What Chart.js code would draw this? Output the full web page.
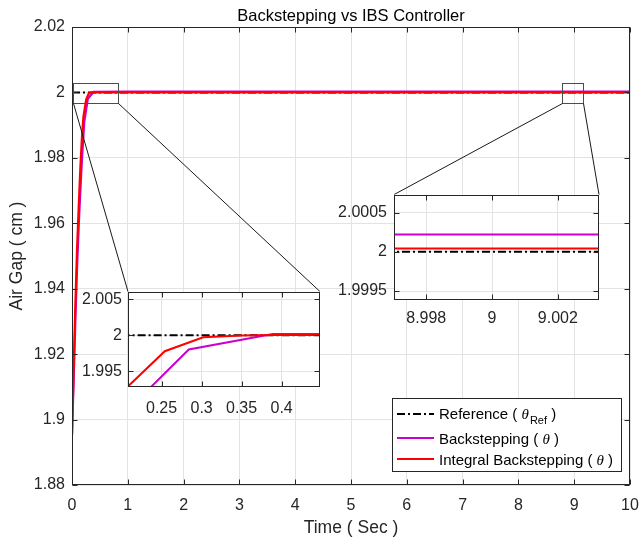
<!DOCTYPE html>
<html>
<head>
<meta charset="utf-8">
<script src="https://cdn.jsdelivr.net/npm/chart.js@4.4.1/dist/chart.umd.min.js"></script>
<style>
  html, body { margin: 0; padding: 0; background: #fff; }
  #wrap { position: relative; width: 641px; height: 539px; }
  #wrap canvas { position: absolute; }
  #main { left: 0; top: 0; }
  #zoom1 { left: 56px; top: 276px; }
  #zoom2 { left: 322px; top: 178px; }
</style>
</head>
<body>
<div id="wrap">
  <canvas id="main" width="641" height="539"></canvas>
  <canvas id="zoom1" width="274" height="146"></canvas>
  <canvas id="zoom2" width="288" height="157"></canvas>
</div>
<script>
// series values
const tRef = [0, 10];
const yRef = [2, 2];
const tBS = [0, 0.03, 0.06, 0.09, 0.12, 0.15, 0.18, 0.22, 0.284, 0.389, 1, 2, 3, 4, 5, 6, 7, 8, 9, 10];
const yBS = [1.8953, 1.912, 1.930, 1.946, 1.959, 1.970, 1.980, 1.9910, 1.99804, 2.00017,
             2.00022, 2.00022, 2.00022, 2.00022, 2.00022, 2.00022, 2.00022, 2.00022, 2.00022, 2.00022];
const tIBS = [0, 0.03, 0.06, 0.09, 0.12, 0.15, 0.18, 0.205, 0.254, 0.302, 0.35, 0.39, 1, 2, 3, 4, 5, 6, 7, 8, 9, 10];
const yIBS = [1.8953, 1.916, 1.935, 1.952, 1.965, 1.977, 1.987, 1.9926, 1.9978, 1.99974, 1.99998, 2.00003,
              2.000044, 2.000044, 2.000044, 2.000044, 2.000044, 2.000044, 2.000044, 2.000044, 2.000044, 2.000044];

const seriesLabels = ['Reference', 'Backstepping', 'Integral Backstepping'];
const seriesSubs = ['Ref', '', ''];
const chartTitle = 'Backstepping vs IBS Controller';

// axes
const mainXTicks = [0, 1, 2, 3, 4, 5, 6, 7, 8, 9, 10];
const mainYTicks = [1.88, 1.9, 1.92, 1.94, 1.96, 1.98, 2, 2.02];
const zoom1XTicks = [0.25, 0.3, 0.35, 0.4];
const zoom1YTicks = [1.995, 2, 2.005];
const zoom2XTicks = [8.998, 9, 9.002];
const zoom2YTicks = [1.9995, 2, 2.0005];

// zoomed windows (rectangles on the main axes)
const box1X = [0.02, 0.83];
const box2X = [8.787, 9.158];
const boxY = [1.9968, 2.0029];

Chart.defaults.font.family = '"Liberation Sans", Arial, Helvetica, sans-serif';
Chart.defaults.color = '#262626';

function series(ts, ys) {
  return ts.map((t, i) => ({ x: t, y: ys[i] }));
}

// order: later series drawn on top, like MATLAB's hold on
function makeDatasets(lw) {
  return [
    { label: seriesLabels[0], data: series(tRef, yRef), borderColor: '#000000', borderWidth: 2,
      borderDash: [8, 3, 2, 3], pointRadius: 0, tension: 0, order: 3 },
    { label: seriesLabels[1], data: series(tBS, yBS), borderColor: '#cc00cc', borderWidth: lw,
      pointRadius: 0, tension: 0, order: 2 },
    { label: seriesLabels[2], data: series(tIBS, yIBS), borderColor: '#ff0000', borderWidth: lw,
      pointRadius: 0, tension: 0, order: 1 }
  ];
}

function axis(min, max, ticks, size, pad, title) {
  return {
    type: 'linear', min: min, max: max,
    afterBuildTicks: s => { s.ticks = ticks.map(v => ({ value: v })); },
    afterFit: s => {
      if (s.isHorizontal()) {
        s.height = size;
        s.paddingLeft = 5;
        s.paddingRight = 9;
      } else {
        s.width = size;
      }
    },
    grid: { color: '#e3e3e3', drawTicks: false, lineWidth: 1 },
    border: { display: false },
    ticks: { autoSkip: false, maxRotation: 0, padding: pad, color: '#262626',
             font: { size: 16 }, callback: v => String(v) },
    title: title || { display: false }
  };
}

// MATLAB style box with inward ticks
const frame = {
  id: 'frame',
  beforeDraw(chart, args, o) {
    const a = chart.chartArea, ctx = chart.ctx;
    ctx.save();
    ctx.fillStyle = '#ffffff';
    ctx.fillRect(a.left, a.top, a.width, a.height);
    ctx.restore();
  },
  afterDatasetsDraw(chart, args, o) {
    const { ctx, chartArea: a, scales: { x, y } } = chart;
    const len = o.len || 5;
    const L = Math.round(a.left) + 0.5, R = Math.round(a.right) - 0.5;
    const T = Math.round(a.top) + 0.5, B = Math.round(a.bottom) - 0.5;
    ctx.save();
    ctx.strokeStyle = '#262626';
    ctx.lineWidth = 1;
    ctx.beginPath();
    x.ticks.forEach(t => {
      const px = Math.round(x.getPixelForValue(t.value)) + 0.5;
      ctx.moveTo(px, B); ctx.lineTo(px, B - len);
      ctx.moveTo(px, T); ctx.lineTo(px, T + len);
    });
    y.ticks.forEach(t => {
      const py = Math.round(y.getPixelForValue(t.value)) + 0.5;
      ctx.moveTo(L, py); ctx.lineTo(L + len, py);
      ctx.moveTo(R, py); ctx.lineTo(R - len, py);
    });
    ctx.stroke();
    ctx.strokeRect(L, T, R - L, B - T);
    ctx.restore();
  }
};

function insetChart(id, xr, yr, xt, yt, xpad, ypad) {
  return new Chart(document.getElementById(id), {
    type: 'line',
    data: { datasets: makeDatasets(2) },
    options: {
      responsive: false, animation: false, events: [],
      layout: { padding: { left: 0, right: id === 'zoom1' ? 10 : 11, top: 10, bottom: 0 } },
      scales: {
        x: axis(xr[0], xr[1], xt, 35, xpad),
        y: axis(yr[0], yr[1], yt, 72, ypad)
      },
      plugins: { legend: { display: false }, title: { display: false }, tooltip: { enabled: false },
                 frame: { len: 5 } }
    },
    plugins: [frame]
  });
}

const zoom1 = insetChart('zoom1', [0.208, 0.448], [1.99284, 2.00606], zoom1XTicks, zoom1YTicks, 12, 6);
const zoom2 = insetChart('zoom2', [8.99702, 9.00325], [1.999386, 2.00073], zoom2XTicks, zoom2YTicks, 9, 7);

const zoomLinks = {
  id: 'zoomLinks',
  afterDraw(chart) {
    const { ctx, scales: { x, y } } = chart;
    ctx.save();
    ctx.lineWidth = 1;
    [[box1X, zoom1], [box2X, zoom2]].forEach(([bx, inset]) => {
      const l = Math.round(x.getPixelForValue(bx[0])) + 0.5;
      const r = Math.round(x.getPixelForValue(bx[1])) + 0.5;
      const t = Math.round(y.getPixelForValue(boxY[1])) + 0.5;
      const b = Math.round(y.getPixelForValue(boxY[0])) + 0.5;
      ctx.strokeStyle = '#4d4d4d';
      ctx.strokeRect(l, t, r - l, b - t);
      const cv = inset.canvas, ca = inset.chartArea;
      const il = cv.offsetLeft + ca.left, ir = cv.offsetLeft + ca.right, it = cv.offsetTop + ca.top;
      ctx.strokeStyle = '#1a1a1a';
      ctx.beginPath();
      ctx.moveTo(l, b); ctx.lineTo(il, it);
      ctx.moveTo(r, b); ctx.lineTo(ir, it);
      ctx.stroke();
    });
    ctx.restore();
  }
};

// title centred over the axes, as MATLAB does
const axesTitle = {
  id: 'axesTitle',
  afterDraw(chart) {
    const ctx = chart.ctx, a = chart.chartArea;
    ctx.save();
    ctx.fillStyle = '#000000';
    ctx.font = '16.5px "Liberation Sans", Arial, sans-serif';
    ctx.textAlign = 'center';
    ctx.textBaseline = 'alphabetic';
    ctx.fillText(chartTitle, (a.left + a.right) / 2, a.top - 6);
    ctx.restore();
  }
};

const legendBox = {
  id: 'legendBox',
  afterDraw(chart) {
    const ctx = chart.ctx, a = chart.chartArea;
    const w = 229, h = 73;
    const left = Math.round(a.right) - 9 - w, top = Math.round(a.bottom) - 14 - h;
    ctx.save();
    ctx.fillStyle = '#ffffff';
    ctx.fillRect(left, top, w, h);
    ctx.strokeStyle = '#262626';
    ctx.lineWidth = 1;
    ctx.strokeRect(left + 0.5, top + 0.5, w, h);
    const lineY = [16, 40, 61], baseY = [21, 46, 67];
    chart.data.datasets.forEach((ds, i) => {
      ctx.strokeStyle = ds.borderColor;
      ctx.lineWidth = 2;
      ctx.setLineDash(ds.borderDash || []);
      ctx.beginPath();
      ctx.moveTo(left + 5, top + lineY[i]);
      ctx.lineTo(left + 42, top + lineY[i]);
      ctx.stroke();
      ctx.setLineDash([]);
      let tx = left + 47;
      const by = top + baseY[i];
      ctx.fillStyle = '#000000';
      ctx.textBaseline = 'alphabetic';
      ctx.font = '15px "Liberation Sans", Arial, sans-serif';
      const head = ds.label + ' ( ';
      ctx.fillText(head, tx, by);
      tx += ctx.measureText(head).width;
      ctx.font = 'italic 15px "Liberation Serif", serif';
      ctx.fillText('\u03b8', tx, by);
      tx += ctx.measureText('\u03b8').width;
      if (seriesSubs[i]) {
        ctx.font = '11px "Liberation Sans", Arial, sans-serif';
        ctx.fillText(seriesSubs[i], tx + 1, by + 5);
        tx += ctx.measureText(seriesSubs[i]).width + 1;
      }
      ctx.font = '15px "Liberation Sans", Arial, sans-serif';
      ctx.fillText(' )', tx, by);
    });
    ctx.restore();
  }
};

const mainChart = new Chart(document.getElementById('main'), {
  type: 'line',
  data: { datasets: makeDatasets(2.2) },
  options: {
    responsive: false, animation: false, events: [],
    layout: { padding: { left: 0, right: 11, top: 27, bottom: 0 } },
    scales: {
      x: axis(0, 10, mainXTicks, 54, 11,
        { display: true, text: 'Time ( Sec )', color: '#262626', font: { size: 17.5 }, padding: { top: 0, bottom: 0 } }),
      y: axis(1.88, 2.02, mainYTicks, 72, 7,
        { display: true, text: 'Air Gap ( cm )', color: '#262626', font: { size: 17.5 }, padding: { top: 7, bottom: 0 } })
    },
    plugins: {
      legend: { display: false },
      tooltip: { enabled: false },
      title: { display: false },
      frame: { len: 5 }
    }
  },
  plugins: [frame, zoomLinks, axesTitle, legendBox]
});
</script>
</body>
</html>
